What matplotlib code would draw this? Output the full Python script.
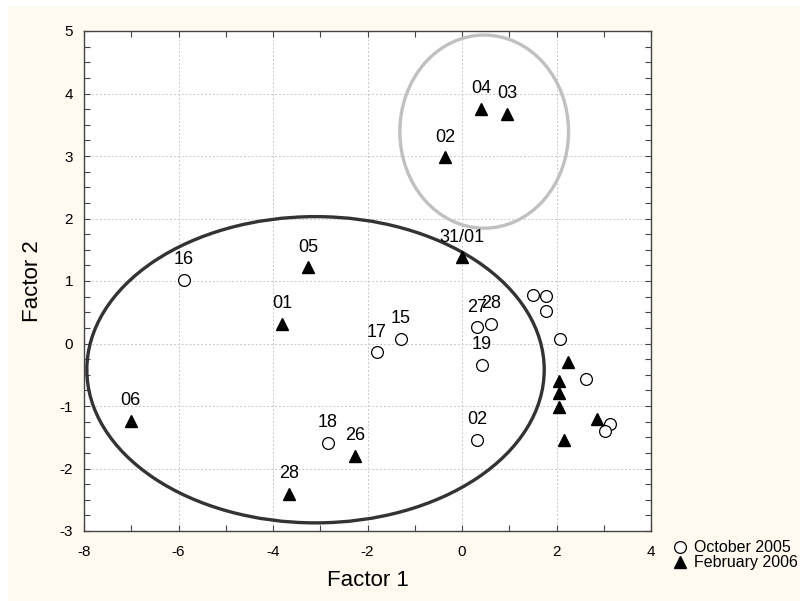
import matplotlib
matplotlib.use("Agg")
import matplotlib.pyplot as plt
from matplotlib.patches import Ellipse, Rectangle
from matplotlib.ticker import MultipleLocator

plt.rcParams['font.family'] = ['Liberation Sans', 'DejaVu Sans']
plt.rcParams['axes.unicode_minus'] = False

# October 2005 samples (open circles)
oct_x = [-5.88, -1.80, -1.29, 0.32, 0.61, 0.42, 0.32, -2.84,
         1.50, 1.78, 1.78, 2.07, 2.62, 3.13, 3.03]
oct_y = [1.02, -0.14, 0.07, 0.26, 0.31, -0.34, -1.54, -1.59,
         0.78, 0.76, 0.52, 0.07, -0.57, -1.29, -1.40]
oct_labels = ['16', '17', '15', '27', '28', '19', '02', '18',
              '', '', '', '', '', '', '']

# February 2006 samples (filled triangles)
feb_x = [0.40, 0.95, -0.36, 0.00, -3.26, -3.81, -7.01, -3.66, -2.26,
         2.24, 2.05, 2.05, 2.05, 2.86, 2.16]
feb_y = [3.75, 3.67, 2.98, 1.38, 1.22, 0.31, -1.24, -2.41, -1.80,
         -0.30, -0.60, -0.79, -1.02, -1.21, -1.54]
feb_labels = ['04', '03', '02', '31/01', '05', '01', '06', '28', '26',
              '', '', '', '', '', '']

# group ellipses: center, width, height
big_group = ((-3.1, -0.42), 9.68, 4.9)
small_group = ((0.47, 3.39), 3.57, 3.09)

bg = '#fefaef'
fig = plt.figure(figsize=(8.0, 6.01), dpi=100, facecolor=bg)
fig.patches.append(Rectangle((0, 0), 8 / 800, 1, transform=fig.transFigure,
                             facecolor='white', edgecolor='none', zorder=0))
fig.patches.append(Rectangle((0, 1 - 7 / 601), 1, 7 / 601, transform=fig.transFigure,
                             facecolor='white', edgecolor='none', zorder=0))

ax = fig.add_axes([84 / 800, 1 - 531 / 601, 567 / 800, 500 / 601])
ax.set_facecolor('white')

ax.add_patch(Ellipse(big_group[0], big_group[1], big_group[2], fill=False,
                     edgecolor='#333333', linewidth=2.4, zorder=2))
ax.add_patch(Ellipse(small_group[0], small_group[1], small_group[2], fill=False,
                     edgecolor='#c0c0c0', linewidth=2.4, zorder=2))

ax.plot(oct_x, oct_y, linestyle='none', marker='o', markersize=8.5,
        markerfacecolor='white', markeredgecolor='black', markeredgewidth=0.9,
        label='October 2005', zorder=3)
ax.plot(feb_x, feb_y, linestyle='none', marker='^', markersize=8,
        markerfacecolor='black', markeredgecolor='black',
        label='February 2006', zorder=3)

for x, y, t in zip(oct_x + feb_x, oct_y + feb_y, oct_labels + feb_labels):
    if t:
        ax.annotate(t, (x, y), xytext=(0, 14.5), textcoords='offset points',
                    ha='center', va='center', fontsize=13, zorder=4)

ax.set_xlim(-8, 4)
ax.set_ylim(-3, 5)
ax.xaxis.set_major_locator(MultipleLocator(2))
ax.xaxis.set_minor_locator(MultipleLocator(1))
ax.yaxis.set_major_locator(MultipleLocator(1))
ax.yaxis.set_minor_locator(MultipleLocator(0.25))
ax.grid(True, which='major', linestyle=(0, (2, 2)), color='#c8c8c8', linewidth=0.7)
ax.set_axisbelow(True)
ax.tick_params(which='both', direction='in', top=True, right=True,
               length=4, width=0.8, color='#444444', labelsize=11)
ax.tick_params(axis='x', pad=10)
ax.tick_params(axis='y', pad=8)
for s in ax.spines.values():
    s.set_color('#444444')
    s.set_linewidth(1.0)

ax.set_xlabel('Factor 1', fontsize=16, labelpad=8)
ax.set_ylabel('Factor 2', fontsize=16, labelpad=12)

fig.legend(loc='upper left', bbox_to_anchor=(666 / 800, 1 - 534 / 601),
           frameon=False, fontsize=11.5, handletextpad=0.45, labelspacing=0.0,
           borderaxespad=0, handlelength=0.9)

fig.savefig('out.png', dpi=100, facecolor=bg)
